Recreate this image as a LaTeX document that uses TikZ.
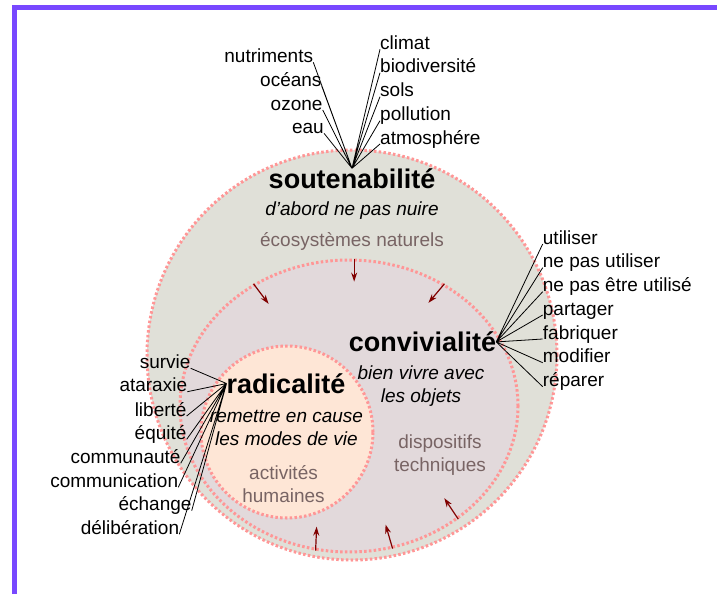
\documentclass[tikz,border=0pt]{standalone}
\usepackage{fontspec}
\setmainfont{Liberation Sans}
\usetikzlibrary{shapes.geometric,arrows.meta}
\definecolor{framepurple}{RGB}{120,72,255}
\definecolor{ecofill}{RGB}{224,224,216}
\definecolor{techfill}{RGB}{226,217,219}
\definecolor{humfill}{RGB}{254,230,214}
\definecolor{rimred}{RGB}{255,150,150}
\definecolor{realmtext}{RGB}{120,100,100}
\definecolor{pushred}{RGB}{128,0,0}
\tikzset{
  zone/.style={draw=rimred, line width=3pt, dash pattern=on 2.5pt off 2.3pt, inner sep=0pt},
  pillar/.style={font=\fontsize{27}{32}\selectfont\bfseries, inner sep=0pt, anchor=base},
  motto/.style={font=\fontsize{19}{23}\selectfont\itshape, align=center, inner sep=0pt, anchor=base},
  realm/.style={font=\fontsize{19}{23}\selectfont, text=realmtext, align=center, inner sep=0pt, anchor=base},
  leaf/.style={font=\fontsize{19}{23}\selectfont, inner sep=0pt},
  link/.style={line width=0.8pt},
  push/.style={draw=pushred, line width=1.2pt, -{Stealth[length=9pt,width=6pt]}}
}
\begin{document}
\begin{tikzpicture}[x=1pt,y=-1pt]
  \useasboundingbox (0,0) rectangle (717,594);
  % Define the frame
  \draw[framepurple, line width=5pt] (14.5,594) -- (14.5,7.5) -- (717,7.5);
  % Define the nodes for the three zones
  \node[zone, circle, fill=ecofill, minimum size=410pt] (eco) at (352,355) {};
  \node[zone, ellipse, fill=techfill, minimum width=338pt, minimum height=292pt] (tech) at (349,406) {};
  \node[zone, circle, fill=humfill, minimum size=172pt] (hum) at (287,432) {};
  % Define the nodes for the titles
  \node[pillar] (sout)  at (352,188.3) {soutenabilité};
  \node[motto]  (soutm) at (352,215)   {d{\char"0027}abord ne pas nuire};
  \node[realm]  (ecot)  at (352,246)   {écosystèmes naturels};
  \node[pillar] (conv)  at (422.5,351.7) {convivialité};
  \node[motto]  (convm) at (421,402.7) {bien vivre avec\\les objets};
  \node[realm]  (techt) at (440,471.7) {dispositifs\\techniques};
  \node[pillar] (rad)   at (286,393.3) {radicalité};
  \node[motto]  (radm)  at (286.5,445) {remettre en cause\\les modes de vie};
  \node[realm]  (humt)  at (283.5,502.3) {activités\\humaines};
  % Define the nodes for soutenabilité
  \node[leaf, anchor=base east] (nutr) at (313.3,62.3) {nutriments};
  \node[leaf, anchor=base east] (ocea) at (321.7,86)   {océans};
  \node[leaf, anchor=base east] (ozon) at (322.7,110)  {ozone};
  \node[leaf, anchor=base east] (eau)  at (324,133.3)  {eau};
  \node[leaf, anchor=base west] (clim) at (380,49.3)   {climat};
  \node[leaf, anchor=base west] (biod) at (380,72.7)   {biodiversité};
  \node[leaf, anchor=base west] (sols) at (380,96.7)   {sols};
  \node[leaf, anchor=base west] (poll) at (380,120.7)  {pollution};
  \node[leaf, anchor=base west] (atmo) at (380,144)    {atmosphére};
  % Define the nodes for convivialité
  \node[leaf, anchor=base west] (util) at (542.7,244)   {utiliser};
  \node[leaf, anchor=base west] (nepu) at (542.7,267.7) {ne pas utiliser};
  \node[leaf, anchor=base west] (neet) at (542.7,291.7) {ne pas être utilisé};
  \node[leaf, anchor=base west] (part) at (542.7,315)   {partager};
  \node[leaf, anchor=base west] (fabr) at (542.7,339)   {fabriquer};
  \node[leaf, anchor=base west] (modi) at (542.7,362.7) {modifier};
  \node[leaf, anchor=base west] (repa) at (542.7,386.7) {réparer};
  % Define the nodes for radicalité
  \node[leaf, anchor=base east] (surv) at (190.7,368.3) {survie};
  \node[leaf, anchor=base east] (atar) at (187.3,391.7) {ataraxie};
  \node[leaf, anchor=base east] (libe) at (186.7,416)   {liberté};
  \node[leaf, anchor=base east] (equi) at (186.7,439.3) {équité};
  \node[leaf, anchor=base east] (comu) at (180.7,463.3) {communauté};
  \node[leaf, anchor=base east] (coms) at (178.3,487.3) {communication};
  \node[leaf, anchor=base east] (echa) at (191.7,510.7) {échange};
  \node[leaf, anchor=base east] (deli) at (179.3,534.3) {délibération};
  % Connect the nodes for soutenabilité
  \draw[link] (sout.north) -- (nutr.base east) (sout.north) -- (ocea.base east)
              (sout.north) -- (ozon.base east) (sout.north) -- (eau.base east)
              (sout.north) -- (clim.base west) (sout.north) -- (biod.base west)
              (sout.north) -- (sols.base west) (sout.north) -- (poll.base west)
              (sout.north) -- (atmo.base west);
  % Connect the nodes for convivialité
  \draw[link] (conv.east) -- (util.base west) (conv.east) -- (nepu.base west)
              (conv.east) -- (neet.base west) (conv.east) -- (part.base west)
              (conv.east) -- (fabr.base west) (conv.east) -- (modi.base west)
              (conv.east) -- (repa.base west);
  % Connect the nodes for radicalité
  \draw[link] (rad.west) -- (surv.base east) (rad.west) -- (atar.base east)
              (rad.west) -- (libe.base east) (rad.west) -- (equi.base east)
              (rad.west) -- (comu.base east) (rad.west) -- (coms.base east)
              (rad.west) -- (echa.base east) (rad.west) -- (deli.base east);
  % Arrows on the rim of the dispositifs
  \foreach \ang/\dx/\dy in {128/15/20, 88/0/23, 52/-16/19, 257/1/-24, 287/-7/-24, 314/-14/-21}
    \draw[push] (tech.\ang) -- ++(\dx,\dy);
\end{tikzpicture}
\end{document}
